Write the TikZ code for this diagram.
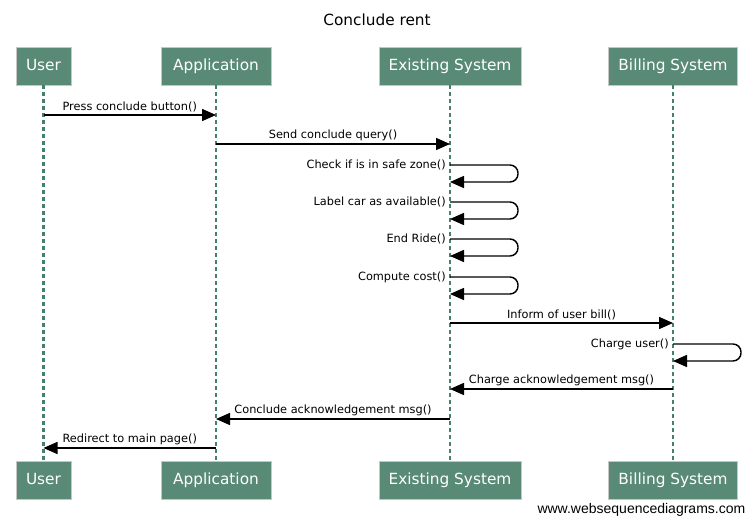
\documentclass[tikz,border=0pt]{standalone}
\usepackage{fontspec}
\setmainfont{DejaVu Sans}
\newfontfamily\footfont{Liberation Sans}
\usetikzlibrary{arrows.meta}
\definecolor{boxgreen}{HTML}{588A76}
\definecolor{lifegreen}{HTML}{44806B}
\def \LoopW {68}
\def \LoopH {17}
\tikzstyle{actor}=[
  draw=gray!45,
  fill=boxgreen,
  text=white,
  minimum height=28.5pt,
  inner sep=0pt,
  text height=8.5pt,
  text depth=2pt,
  font=\fontsize{11.5}{14}\selectfont
]
\tikzstyle{life}=[draw=lifegreen, line width=2pt, dash pattern=on 3pt off 2.25pt]
\tikzstyle{msg}=[line width=1.1pt, -{Triangle[length=10.5pt,width=9pt]}]
\tikzstyle{lbl}=[font=\fontsize{8.5}{10}\selectfont, inner sep=1.5pt]

\begin{document}
\begin{tikzpicture}[x=0.75pt,y=-0.75pt]
          \useasboundingbox (0,0) rectangle (754,524);

          \node[font=\fontsize{11.5}{14}\selectfont] (title) at (377,20) {Conclude rent};

          % actors and lifelines
          \foreach \n/\x/\w/\t in {u/43.5/41.25/User, a/216/82.5/Application,
                                   e/450/106.5/Existing System, b/673/96.75/Billing System}{
            \node[actor, minimum width=\w pt] (\n-top) at (\x,66) {\t};
            \node[actor, minimum width=\w pt] (\n-bot) at (\x,480.5) {\t};
            \draw[life] (\n-top) -- (\n-bot);
          }

          % messages
          \foreach \i/\s/\d/\y/\t in {1/u/a/115/Press conclude button(),
                                      2/a/e/144/Send conclude query(),
                                      3/e/b/323/Inform of user bill(),
                                      4/b/e/389/Charge acknowledgement msg(),
                                      5/e/a/419/Conclude acknowledgement msg(),
                                      6/a/u/448/Redirect to main page()}{
            \coordinate (m\i-from) at (\s-top |- 0,\y);
            \coordinate (m\i-to) at (\d-top |- 0,\y);
            \draw[msg] (m\i-from) -- (m\i-to) node[midway,above,lbl] {\t};
          }

          % self calls
          \foreach \i/\n/\y/\t in {1/e/165/Check if is in safe zone(),
                                   2/e/202/Label car as available(),
                                   3/e/239/End Ride(),
                                   4/e/277/Compute cost(),
                                   5/b/344/Charge user()}{
            \coordinate (s\i-out) at (\n-top |- 0,\y);
            \coordinate (s\i-in) at (\n-top |- 0,\y+\LoopH);
            \node[lbl, left, inner sep=3pt] (s\i-lbl) at (s\i-out) {\t};
            \draw[msg, rounded corners=6pt] (s\i-out) -- ++(\LoopW,0) |- (s\i-in);
          }

          \node[anchor=east, font=\footfont\fontsize{10.5}{12}\selectfont] (credit) at (750,510) {www.websequencediagrams.com};
        \end{tikzpicture}
\end{document}
